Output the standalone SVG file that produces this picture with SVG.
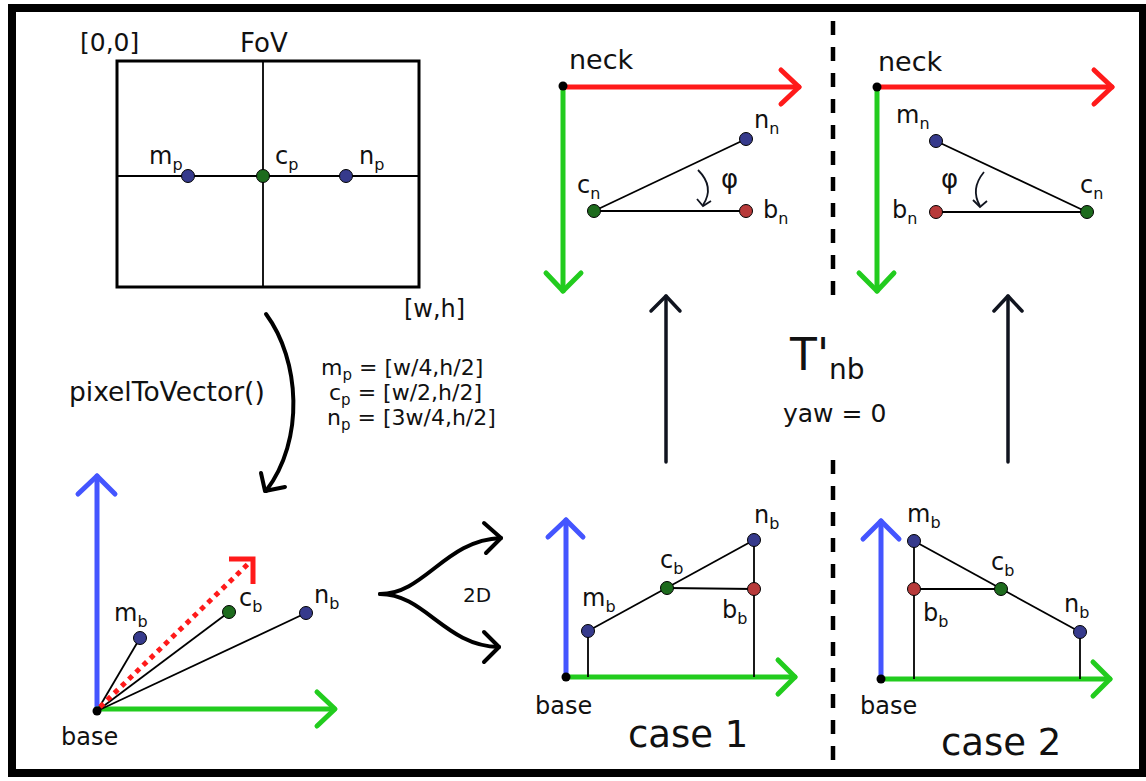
<svg xmlns="http://www.w3.org/2000/svg" width="1146" height="781" viewBox="0 0 1146 781">
<style>
text{font-family:"DejaVu Sans","Liberation Sans",sans-serif;fill:#111}
.lb{font-size:24px}
.sub{font-size:16px}
.eq{font-size:22px}
.eqs{font-size:15px}
.ln{stroke:#000;stroke-width:1.8;fill:none}
.red{stroke:#ff1a1a;stroke-width:5;fill:none;stroke-linecap:round;stroke-linejoin:round}
.grn{stroke:#22cc1e;stroke-width:5;fill:none;stroke-linecap:round;stroke-linejoin:round}
.blu{stroke:#4455ff;stroke-width:5;fill:none;stroke-linecap:round;stroke-linejoin:round}
.blk{stroke:#000;stroke-width:4;fill:none;stroke-linecap:round;stroke-linejoin:round}
.nav{stroke:#10141f;stroke-width:3.5;fill:none;stroke-linecap:round;stroke-linejoin:round}
.phi{stroke:#10141f;stroke-width:1.8;fill:none}
.pb{fill:#363a8c;stroke:#000;stroke-width:1}
.pg{fill:#1d6b1d;stroke:#000;stroke-width:1}
.pr{fill:#b83a3a;stroke:#000;stroke-width:1}
.org{fill:#000}
.dash{stroke:#000;stroke-width:4.5;stroke-dasharray:14 12;fill:none}
</style>
<rect x="0" y="0" width="1146" height="781" fill="#fff"/>
<rect x="12" y="8" width="1131" height="765" fill="none" stroke="#000" stroke-width="8"/>

<g id="separator">
<line class="dash" x1="833" y1="21" x2="833" y2="295"/>
<line class="dash" x1="833" y1="460" x2="833" y2="762"/>
</g>

<g id="connectors">
<!-- FoV grid -->
<rect x="117" y="61" width="302" height="226" fill="none" stroke="#000" stroke-width="3"/>
<line class="ln" x1="263" y1="61" x2="263" y2="287"/>
<line class="ln" x1="117" y1="176" x2="419" y2="176"/>
<!-- pixelToVector curve -->
<path class="blk" d="M266,314 C300,360 305,440 266,491"/>
<polyline class="blk" points="261,473 265,491 285,487"/>
<!-- 2D fork -->
<path class="blk" d="M380,594 C425,594 445,540 501,538"/>
<polyline class="blk" points="484,523 501,538 486,553"/>
<path class="blk" d="M380,594 C425,594 445,646 499,647"/>
<polyline class="blk" points="484,632 499,647 484,662"/>
<!-- base3d axes -->
<line class="blu" x1="97" y1="711" x2="97" y2="476"/>
<polyline class="blu" points="78,494 97,476 115,494"/>
<line class="grn" x1="97" y1="709" x2="334" y2="709"/>
<polyline class="grn" points="317,692 335,709 317,726"/>
<line class="ln" x1="97" y1="711" x2="140" y2="638"/>
<line class="ln" x1="97" y1="711" x2="229" y2="612"/>
<line class="ln" x1="97" y1="711" x2="306" y2="613"/>
<line x1="100" y1="707" x2="248" y2="564" stroke="#ff1a1a" stroke-width="5" stroke-dasharray="5 5"/>
<polyline points="229,559 253,559 253,584" fill="none" stroke="#ff1a1a" stroke-width="5"/>
<!-- neck1 axes -->
<line class="red" x1="563" y1="87" x2="799" y2="87"/>
<polyline class="red" points="781,70 799,87 781,104"/>
<line class="grn" x1="563" y1="87" x2="563" y2="291"/>
<polyline class="grn" points="546,273 563,291 581,273"/>
<line class="ln" x1="594" y1="211" x2="746" y2="139"/>
<line class="ln" x1="594" y1="211" x2="746" y2="211"/>
<path class="phi" d="M698,170 Q715,187 703,205"/>
<polyline class="phi" points="697,199 703,206 711,201"/>
<!-- neck2 axes -->
<line class="red" x1="877" y1="87" x2="1112" y2="87"/>
<polyline class="red" points="1094,70 1112,87 1094,104"/>
<line class="grn" x1="877" y1="87" x2="877" y2="291"/>
<polyline class="grn" points="859,273 877,291 894,273"/>
<line class="ln" x1="936" y1="141" x2="1087" y2="212"/>
<line class="ln" x1="936" y1="212" x2="1087" y2="212"/>
<path class="phi" d="M984,172 Q970,189 980,206"/>
<polyline class="phi" points="973,200 980,207 987,201"/>
<!-- transform arrows -->
<line class="nav" x1="666" y1="462" x2="666" y2="296"/>
<polyline class="nav" points="651,311 666,296 680,311"/>
<line class="nav" x1="1008" y1="462" x2="1008" y2="296"/>
<polyline class="nav" points="994,311 1008,296 1022,311"/>
<!-- case1 -->
<line class="blu" x1="566" y1="677" x2="566" y2="520"/>
<polyline class="blu" points="548,537 566,520 583,537"/>
<line class="grn" x1="566" y1="677" x2="795" y2="677"/>
<polyline class="grn" points="778,660 795,677 778,694"/>
<line class="ln" x1="588" y1="631" x2="754" y2="540"/>
<line class="ln" x1="667" y1="588" x2="754" y2="589"/>
<line class="ln" x1="754" y1="540" x2="754" y2="677"/>
<line class="ln" x1="588" y1="631" x2="588" y2="677"/>
<!-- case2 -->
<line class="blu" x1="881" y1="679" x2="881" y2="521"/>
<polyline class="blu" points="863,539 881,521 899,539"/>
<line class="grn" x1="881" y1="679" x2="1110" y2="679"/>
<polyline class="grn" points="1093,662 1110,679 1093,696"/>
<line class="ln" x1="914" y1="541" x2="1080" y2="632"/>
<line class="ln" x1="914" y1="589" x2="1001" y2="589"/>
<line class="ln" x1="914" y1="541" x2="914" y2="679"/>
<line class="ln" x1="1080" y1="632" x2="1080" y2="679"/>
</g>

<g id="fov">
<circle class="pb" cx="188" cy="176" r="6.5"/>
<circle class="pg" cx="263" cy="176" r="6.5"/>
<circle class="pb" cx="346" cy="176" r="6.5"/>
<text x="80" y="51" font-size="25">[0,0]</text>
<text x="240" y="52" font-size="26">FoV</text>
<text class="lb" x="149" y="164">m<tspan class="sub" dy="6">p</tspan></text>
<text class="lb" x="275" y="164">c<tspan class="sub" dy="6">p</tspan></text>
<text class="lb" x="359" y="164">n<tspan class="sub" dy="6">p</tspan></text>
<text class="lb" x="404" y="317">[w,h]</text>
</g>

<g id="pixelToVector">
<text x="69" y="401" font-size="26.5">pixelToVector()</text>
<text class="eq" x="321" y="375">m<tspan class="eqs" dy="5">p</tspan><tspan dy="-5"> = [w/4,h/2]</tspan></text>
<text class="eq" x="329" y="400">c<tspan class="eqs" dy="5">p</tspan><tspan dy="-5"> = [w/2,h/2]</tspan></text>
<text class="eq" x="327" y="425">n<tspan class="eqs" dy="5">p</tspan><tspan dy="-5"> = [3w/4,h/2]</tspan></text>
</g>

<g id="base3d">
<circle class="org" cx="97" cy="711" r="4.5"/>
<circle class="pb" cx="140" cy="638" r="6.5"/>
<circle class="pg" cx="229" cy="612" r="6.5"/>
<circle class="pb" cx="306" cy="613" r="6.5"/>
<text class="lb" x="114" y="621">m<tspan class="sub" dy="6">b</tspan></text>
<text class="lb" x="239" y="606">c<tspan class="sub" dy="6">b</tspan></text>
<text class="lb" x="314" y="603">n<tspan class="sub" dy="6">b</tspan></text>
<text x="61" y="745" font-size="24">base</text>
</g>

<g id="twoD">
<text x="463" y="602" font-size="20">2D</text>
</g>

<g id="neck1">
<circle class="org" cx="563" cy="86" r="4.5"/>
<circle class="pb" cx="746" cy="139" r="6.5"/>
<circle class="pg" cx="594" cy="211" r="6.5"/>
<circle class="pr" cx="746" cy="211" r="6.5"/>
<text x="569" y="69" font-size="27">neck</text>
<text class="lb" x="754" y="128">n<tspan class="sub" dy="6">n</tspan></text>
<text class="lb" x="577" y="193">c<tspan class="sub" dy="6">n</tspan></text>
<text class="lb" x="763" y="218">b<tspan class="sub" dy="6">n</tspan></text>
<text x="721" y="188" font-size="26">φ</text>
</g>

<g id="neck2">
<circle class="org" cx="877" cy="87" r="4.5"/>
<circle class="pb" cx="936" cy="141" r="6.5"/>
<circle class="pg" cx="1087" cy="212" r="6.5"/>
<circle class="pr" cx="936" cy="212" r="6.5"/>
<text x="878" y="71" font-size="27">neck</text>
<text class="lb" x="896" y="123">m<tspan class="sub" dy="6">n</tspan></text>
<text class="lb" x="1080" y="193">c<tspan class="sub" dy="6">n</tspan></text>
<text class="lb" x="892" y="218">b<tspan class="sub" dy="6">n</tspan></text>
<text x="941" y="188" font-size="26">φ</text>
</g>

<g id="transform">
<text x="790" y="370" font-size="44">T'<tspan font-size="28" dy="9">nb</tspan></text>
<text x="783" y="422" font-size="25">yaw = 0</text>
</g>

<g id="case1">
<circle class="org" cx="566" cy="677" r="4.5"/>
<circle class="pb" cx="588" cy="631" r="6.5"/>
<circle class="pg" cx="667" cy="588" r="6.5"/>
<circle class="pb" cx="754" cy="540" r="6.5"/>
<circle class="pr" cx="754" cy="589" r="6.5"/>
<text class="lb" x="582" y="606">m<tspan class="sub" dy="6">b</tspan></text>
<text class="lb" x="660" y="568">c<tspan class="sub" dy="6">b</tspan></text>
<text class="lb" x="754" y="523">n<tspan class="sub" dy="6">b</tspan></text>
<text class="lb" x="722" y="618">b<tspan class="sub" dy="6">b</tspan></text>
<text x="535" y="714" font-size="24">base</text>
<text x="628" y="747" font-size="37">case 1</text>
</g>

<g id="case2">
<circle class="org" cx="881" cy="679" r="4.5"/>
<circle class="pb" cx="914" cy="541" r="6.5"/>
<circle class="pr" cx="914" cy="589" r="6.5"/>
<circle class="pg" cx="1001" cy="589" r="6.5"/>
<circle class="pb" cx="1080" cy="632" r="6.5"/>
<text class="lb" x="907" y="522">m<tspan class="sub" dy="6">b</tspan></text>
<text class="lb" x="991" y="570">c<tspan class="sub" dy="6">b</tspan></text>
<text class="lb" x="1064" y="612">n<tspan class="sub" dy="6">b</tspan></text>
<text class="lb" x="923" y="621">b<tspan class="sub" dy="6">b</tspan></text>
<text x="860" y="714" font-size="24">base</text>
<text x="941" y="755" font-size="37">case 2</text>
</g>
</svg>
